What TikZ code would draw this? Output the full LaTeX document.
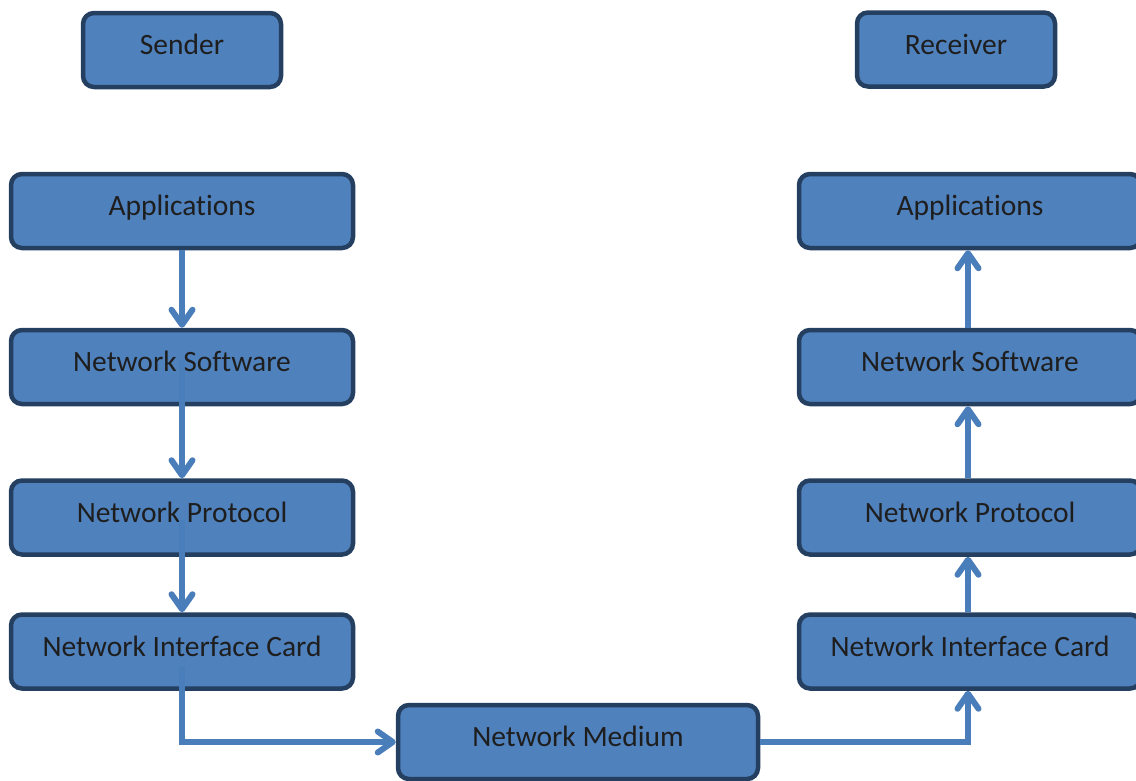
\documentclass[tikz,border=0pt]{standalone}
\usepackage{fontspec}
\setmainfont[Ligatures=NoCommon]{Carlito}
\usetikzlibrary{arrows.meta,calc}
\definecolor{boxfill}{HTML}{4F81BD}
\definecolor{boxline}{HTML}{243F60}
\definecolor{flow}{HTML}{4A7EBB}
\definecolor{label}{HTML}{1E1E1E}
\tikzset{
  layerbox/.style={draw=boxline, fill=boxfill, line width=4.5pt, rounded corners=11pt,
    minimum height=74pt, inner sep=0pt, text height=20pt, text depth=11pt,
    text=label, font=\fontsize{29.5}{33}\selectfont},
  widebox/.style={layerbox, minimum width=342pt},
  endbox/.style={layerbox, minimum width=198pt},
  flowarrow/.style={draw=flow, line width=6pt,
    -{Straight Barb[length=15pt,width=21pt,line cap=round,line join=round]}},
}
\begin{document}
\begin{tikzpicture}[x=1pt,y=-1pt]
\useasboundingbox (0,0) rectangle (1136,780);
% end points
\node[endbox] (snd) at (182,50) {Sender};
\node[endbox] (rcv) at (956,49.5) {Receiver};
% sending stack
\node[widebox] (la) at (182,211) {Applications};
\node[widebox] (ls) at (182,367) {Network Software};
\node[widebox] (lp) at (182,517.5) {Network Protocol};
\node[widebox] (ln) at (182,651.5) {Network Interface Card};
% receiving stack
\node[widebox] (ra) at (970,211) {Applications};
\node[widebox] (rs) at (970,367) {Network Software};
\node[widebox] (rp) at (970,517.5) {Network Protocol};
\node[widebox] (rn) at (970,651.5) {Network Interface Card};
% shared medium
\node[layerbox, minimum width=360pt] (med) at (578,742) {Network Medium};
% data flowing down the sender stack
\draw[flowarrow] (la.south) -- (ls.north);
\draw[flowarrow] ([yshift=7pt]ls.center) -- (lp.north);
\draw[flowarrow] ([yshift=-2pt]lp.center) -- (ln.north);
\draw[flowarrow] ([yshift=-15pt]ln.center) |- (med.west);
% data flowing up the receiver stack
\draw[flowarrow] (med.east) -| ([xshift=-2pt]rn.south);
\draw[flowarrow] ([xshift=-2pt]rn.north) -- ([xshift=-2pt]rp.south);
\draw[flowarrow] ([xshift=-2pt]rp.north) -- ([xshift=-2pt]rs.south);
\draw[flowarrow] ([xshift=-2pt]rs.north) -- ([xshift=-2pt]ra.south);
\end{tikzpicture}
\end{document}
